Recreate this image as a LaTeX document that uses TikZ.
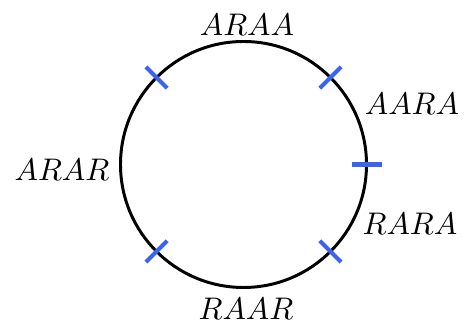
\documentclass[tikz,border=0pt]{standalone}
\usetikzlibrary{calc}
\definecolor{tickblue}{RGB}{60,100,235}
\begin{document}
\begin{tikzpicture}[x=0.32pt,y=0.32pt,
  ring/.style={line width=0.95pt,black},
  tickmark/.style={line width=1.3pt,tickblue},
  lab/.style={inner sep=0pt}]
\useasboundingbox (0,0) rectangle (464,327);
\coordinate (o) at (243.5,162.5);
\draw[ring] (o) circle (123);
\foreach \a in {0,45,135,225,315}{
  \draw[tickmark] ($(o)+(\a:108)$) -- ($(o)+(\a:138)$);
}
\node[lab] (araa) at (247,302) {$ARAA$};
\node[lab] (aara) at (412,223) {$AARA$};
\node[lab] (rara) at (410,103) {$RARA$};
\node[lab] (raar) at (246,18) {$RAAR$};
\node[lab] (arar) at (62,157) {$ARAR$};
\end{tikzpicture}
\end{document}
